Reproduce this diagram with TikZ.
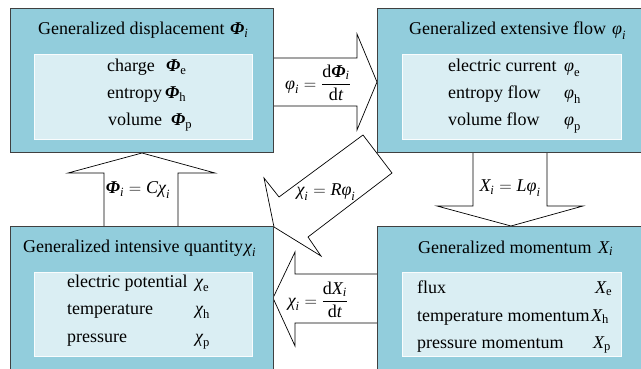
\documentclass[tikz,border=0pt]{standalone}
\usepackage{amsmath}
\usepackage{fontspec}
\setmainfont{Liberation Serif}
\definecolor{outerc}{HTML}{92CDDC}
\definecolor{innerc}{HTML}{DAEEF3}
\definecolor{edgec}{HTML}{404040}
\newcommand\PHI{\textbf{\textit{Φ}}}
\newcommand\VPHI{\textit{φ}}
\newcommand\CHI{\textit{χ}}
\newcommand\XX{\textit{X}}
\newcommand\si{_{\textit{i}}}
\newcommand\su[1]{_{\text{#1}}}
\begin{document}
\begin{tikzpicture}[x=1pt,y=-1pt,
  outerbox/.style={draw=edgec, fill=outerc, line width=1pt, anchor=north west, inner sep=0pt, outer sep=0pt},
  innerbox/.style={draw=white!85!innerc, fill=innerc, line width=0.6pt, anchor=north west, inner sep=0pt, outer sep=0pt},
  barrow/.style={draw=black, fill=white, line width=0.7pt, line join=miter},
  lbl/.style={anchor=base west, inner sep=0pt, font=\fontsize{18}{20}\selectfont},
  albl/.style={anchor=center, inner sep=0pt, font=\fontsize{18}{20}\selectfont}]
\useasboundingbox (0,0) rectangle (641,369);
% block arrows (behind boxes)
\draw[barrow] (268,58) -- (357,58) -- (357,34) -- (377,82) -- (357,130) -- (357,106) -- (268,106) -- cycle;
\draw[barrow] (473,148) -- (473,206) -- (437,206) -- (511,226) -- (583,206) -- (547,206) -- (547,148) -- cycle;
\draw[barrow] (104,231) -- (104,173) -- (68,173) -- (142,153) -- (215,173) -- (178,173) -- (178,231) -- cycle;
\draw[barrow] (382,274) -- (295,274) -- (295,252) -- (273,298) -- (295,346) -- (295,323) -- (382,323) -- cycle;
\draw[barrow] (363,135) -- (279,197) -- (264,178) -- (274,227) -- (321,256) -- (308,237) -- (392,173) -- cycle;
% boxes
\node[outerbox, minimum width=263pt, minimum height=144pt] (tl) at (10,9) {};
\node[outerbox, minimum width=270pt, minimum height=144pt] (tr) at (377,9) {};
\node[outerbox, minimum width=263pt, minimum height=152pt] (bl) at (10,226) {};
\node[outerbox, minimum width=270pt, minimum height=152pt] (br) at (377,226) {};
\node[innerbox, minimum width=218pt, minimum height=85pt] (tli) at (34,54) {};
\node[innerbox, minimum width=219pt, minimum height=85pt] (tri) at (402,54) {};
\node[innerbox, minimum width=218pt, minimum height=84pt] (bli) at (34,272) {};
\node[innerbox, minimum width=219pt, minimum height=84pt] (bri) at (402,272) {};
% top-left texts
\node[lbl] (tlt) at (38,35) {Generalized displacement};
\node[lbl] (tls) at (230,35) {$\PHI\si$};
\node[lbl] (tl1) at (107,72) {charge};
\node[lbl] (tl1s) at (166,72) {$\PHI\su{e}$};
\node[lbl] (tl2) at (107,99) {entropy};
\node[lbl] (tl2s) at (165,99) {$\PHI\su{h}$};
\node[lbl] (tl3) at (108,126) {volume};
\node[lbl] (tl3s) at (171,126) {$\PHI\su{p}$};
% top-right texts
\node[lbl] (trt) at (409,35) {Generalized extensive flow};
\node[lbl] (trs) at (612,35) {$\VPHI\si$};
\node[lbl] (tr1) at (448,72) {electric current};
\node[lbl] (tr1s) at (564,72) {$\VPHI\su{e}$};
\node[lbl] (tr2) at (448,99) {entropy flow};
\node[lbl] (tr2s) at (564,99) {$\VPHI\su{h}$};
\node[lbl] (tr3) at (448,126) {volume flow};
\node[lbl] (tr3s) at (564,126) {$\VPHI\su{p}$};
% bottom-left texts
\node[lbl] (blt) at (23,252) {Generalized intensive quantity};
\node[lbl] (bls) at (244,252) {$\CHI\si$};
\node[lbl] (bl1) at (67,287) {electric potential};
\node[lbl] (bl1s) at (195,287) {$\CHI\su{e}$};
\node[lbl] (bl2) at (67,314) {temperature};
\node[lbl] (bl2s) at (195,314) {$\CHI\su{h}$};
\node[lbl] (bl3) at (67,342) {pressure};
\node[lbl] (bl3s) at (195,342) {$\CHI\su{p}$};
% bottom-right texts
\node[lbl] (brt) at (418,253) {Generalized momentum};
\node[lbl] (brs) at (598,253) {$\XX\si$};
\node[lbl] (br1) at (417,293) {flux};
\node[lbl] (br1s) at (595,293) {$\XX\su{e}$};
\node[lbl] (br2) at (417,321) {temperature momentum};
\node[lbl] (br2s) at (591,321) {$\XX\su{h}$};
\node[lbl] (br3) at (417,348) {pressure momentum};
\node[lbl] (br3s) at (593,348) {$\XX\su{p}$};
% arrow labels
\node[albl] (a1) at (318,83) {$\VPHI\si = \dfrac{\text{d}\PHI\si}{\text{d}\textit{t}}$};
\node[albl] (a2) at (510,188) {$\XX\si = \textit{L}\VPHI\si$};
\node[albl] (a3) at (138,190) {$\PHI\si = \textit{C}\CHI\si$};
\node[albl] (a4) at (318,300) {$\CHI\si = \dfrac{\text{d}\XX\si}{\text{d}\textit{t}}$};
\node[albl] (a5) at (326,192) {$\CHI\si = \textit{R}\VPHI\si$};
\end{tikzpicture}
\end{document}
